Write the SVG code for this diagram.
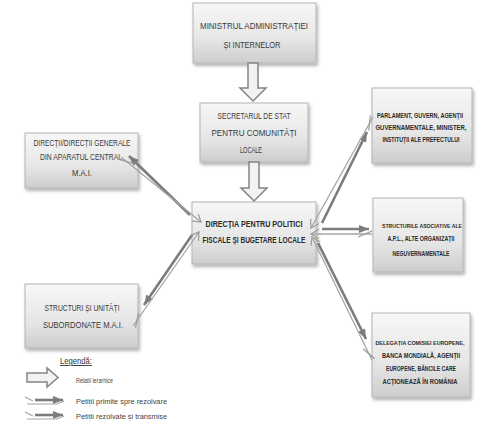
<svg xmlns="http://www.w3.org/2000/svg" width="479" height="422" viewBox="0 0 479 422">
<style>
.box{fill:url(#g);stroke:#b4b4b4;stroke-width:1;filter:url(#sh)}
.t{font-family:"Liberation Sans",Arial,sans-serif;fill:#3a3a3a;text-anchor:middle}
.b{font-weight:bold;fill:#2a2a2a}
.r{font-size:6.6px}
.s{font-size:6.1px}
.lg{font-family:"Liberation Sans",Arial,sans-serif;fill:#444;font-size:7.5px}
.dk{stroke:#7c7c7c;stroke-width:2.6;fill:none;marker-end:url(#arr)}
.th{stroke:#a6a6a6;stroke-width:1.3;fill:none;marker-end:url(#chev);marker-start:url(#tick)}
.hol{fill:#f2f2f2;stroke:#858585;stroke-width:1.5}
</style>
<defs>
<linearGradient id="g" x1="0" y1="0" x2="0" y2="1">
<stop offset="0" stop-color="#f7f7f7"/>
<stop offset="0.6" stop-color="#e6e6e6"/>
<stop offset="1" stop-color="#cdcdcd"/>
</linearGradient>
<filter id="sh" x="-10%" y="-10%" width="130%" height="130%">
<feDropShadow dx="1.5" dy="2.5" stdDeviation="1.5" flood-color="#000" flood-opacity="0.3"/>
</filter>
<marker id="arr" markerUnits="userSpaceOnUse" markerWidth="12" markerHeight="10" refX="10" refY="4" orient="auto">
<path d="M0,0 L10,4 L0,8 Z" fill="#7c7c7c"/>
</marker>
<marker id="chev" markerUnits="userSpaceOnUse" markerWidth="12" markerHeight="12" refX="8" refY="5" orient="auto">
<path d="M0,0 L8,5 L0,10" fill="none" stroke="#9a9a9a" stroke-width="1.2"/>
</marker>
<marker id="tick" markerUnits="userSpaceOnUse" markerWidth="20" markerHeight="12" refX="2" refY="6" orient="auto">
<path d="M2,9 L16,3" fill="none" stroke="#9a9a9a" stroke-width="1.2"/>
</marker>
</defs>

<g id="n-ministrul">
<rect class="box" x="193" y="3" width="123" height="60"/>
<text class="t" x="254" y="29" font-size="9.5" textLength="108" lengthAdjust="spacingAndGlyphs">MINISTRUL ADMINISTRAȚIEI</text>
<text class="t" x="252" y="48" font-size="9.5" textLength="57" lengthAdjust="spacingAndGlyphs">ȘI INTERNELOR</text>
</g>

<g id="n-secretarul">
<rect class="box" x="200" y="103" width="108" height="59"/>
<text class="t" x="254" y="119" font-size="9" textLength="73" lengthAdjust="spacingAndGlyphs">SECRETARUL DE STAT</text>
<text class="t" x="254" y="136" font-size="9" textLength="85" lengthAdjust="spacingAndGlyphs">PENTRU COMUNITĂȚI</text>
<text class="t" x="251" y="153" font-size="9" textLength="22" lengthAdjust="spacingAndGlyphs">LOCALE</text>
</g>

<g id="n-directia">
<rect class="box" x="192" y="202" width="124" height="62"/>
<text class="t b" x="254" y="227" font-size="9.5" textLength="97" lengthAdjust="spacingAndGlyphs">DIRECȚIA PENTRU POLITICI</text>
<text class="t b" x="254" y="243" font-size="9.5" textLength="103" lengthAdjust="spacingAndGlyphs">FISCALE ȘI BUGETARE LOCALE</text>
</g>

<g id="n-directii">
<rect class="box" x="25" y="133" width="113" height="55"/>
<text class="t" x="82" y="146" font-size="9" textLength="97" lengthAdjust="spacingAndGlyphs">DIRECȚII/DIRECȚII GENERALE</text>
<text class="t" x="81" y="160" font-size="9" textLength="82" lengthAdjust="spacingAndGlyphs">DIN APARATUL CENTRAL</text>
<text class="t" x="82" y="176" font-size="9" textLength="20" lengthAdjust="spacingAndGlyphs">M.A.I.</text>
</g>

<g id="n-structuri">
<rect class="box" x="25" y="284" width="113" height="64"/>
<text class="t" x="82" y="311" font-size="9" textLength="75" lengthAdjust="spacingAndGlyphs">STRUCTURI ȘI UNITĂȚI</text>
<text class="t" x="83" y="328" font-size="9" textLength="80" lengthAdjust="spacingAndGlyphs">SUBORDONATE M.A.I.</text>
</g>

<g id="n-parlament">
<rect class="box" x="372" y="88" width="100" height="75"/>
<text class="t b r" x="420" y="118" textLength="86" lengthAdjust="spacingAndGlyphs">PARLAMENT, GUVERN, AGENȚII</text>
<text class="t b r" x="421" y="130" textLength="91" lengthAdjust="spacingAndGlyphs">GUVERNAMENTALE, MINISTER,</text>
<text class="t b r" x="421" y="142" textLength="77" lengthAdjust="spacingAndGlyphs">INSTITUȚII ALE PREFECTULUI</text>
</g>

<g id="n-asociative">
<rect class="box" x="373" y="198" width="90" height="74"/>
<text class="t b s" x="422" y="228" textLength="80" lengthAdjust="spacingAndGlyphs">STRUCTURILE ASOCIATIVE ALE</text>
<text class="t b r" x="421" y="241" textLength="67" lengthAdjust="spacingAndGlyphs">A.P.L., ALTE ORGANIZAȚII</text>
<text class="t b r" x="421" y="256" textLength="57" lengthAdjust="spacingAndGlyphs">NEGUVERNAMENTALE</text>
</g>

<g id="n-delegatia">
<rect class="box" x="372" y="313" width="98" height="84"/>
<text class="t b s" x="420" y="345" textLength="89" lengthAdjust="spacingAndGlyphs">DELEGAȚIA COMISIEI EUROPENE,</text>
<text class="t b r" x="421" y="358" textLength="78" lengthAdjust="spacingAndGlyphs">BANCA MONDIALĂ, AGENȚII</text>
<text class="t b r" x="421" y="371" textLength="70" lengthAdjust="spacingAndGlyphs">EUROPENE, BĂNCILE CARE</text>
<text class="t b r" x="420" y="384" textLength="75" lengthAdjust="spacingAndGlyphs">ACȚIONEAZĂ ÎN ROMÂNIA</text>
</g>

<g id="connectors">
<path class="hol" d="M248,63 H258 V88 H266 L253,101 L240,88 H248 Z"/>
<path class="hol" d="M249,162 H259 V188 H267 L254,201 L241,188 H249 Z"/>
<line class="dk" x1="190" y1="215" x2="129" y2="156"/>
<line class="th" x1="121" y1="157" x2="201" y2="222"/>
<line class="dk" x1="192" y1="235" x2="144" y2="305"/>
<line class="th" x1="133" y1="326" x2="199" y2="232"/>
<line class="dk" x1="322" y1="223" x2="367" y2="132"/>
<line class="th" x1="373" y1="117" x2="311" y2="228"/>
<line class="dk" x1="322" y1="229" x2="369" y2="229"/>
<line class="th" x1="372" y1="234" x2="311" y2="234"/>
<line class="dk" x1="318" y1="243" x2="366" y2="339"/>
<line class="th" x1="372" y1="360" x2="312" y2="237"/>
</g>

<g id="legend">
<text x="60" y="364" font-family="'Liberation Sans',Arial,sans-serif" font-size="9" fill="#333" text-decoration="underline" textLength="32" lengthAdjust="spacingAndGlyphs">Legendă:</text>
<path class="hol" d="M27,373 H47 V368 L58,377.5 L47,387 V382 H27 Z"/>
<text class="lg" x="76" y="383" textLength="37" lengthAdjust="spacingAndGlyphs">Relații ierarhice</text>
<line class="dk" x1="35" y1="400" x2="63" y2="400"/>
<path d="M25,397 L33,401 M27,404 H57 L64,401" fill="none" stroke="#a6a6a6" stroke-width="1.2"/>
<text class="lg" x="76" y="404" textLength="91" lengthAdjust="spacingAndGlyphs">Petiții primite spre rezolvare</text>
<line class="dk" x1="35" y1="415" x2="63" y2="415"/>
<path d="M25,412 L33,416 M27,419 H57 L64,416" fill="none" stroke="#a6a6a6" stroke-width="1.2"/>
<text class="lg" x="76" y="419" textLength="91" lengthAdjust="spacingAndGlyphs">Petiții rezolvate și transmise</text>
</g>
</svg>
